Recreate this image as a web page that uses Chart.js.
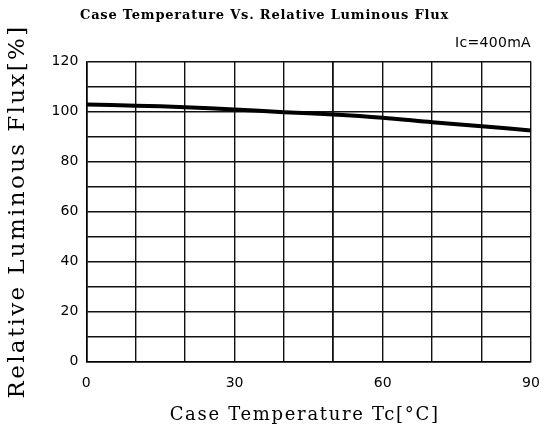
<!DOCTYPE html>
<html>
<head>
<meta charset="utf-8">
<script src="https://cdn.jsdelivr.net/npm/chart.js@4.4.1/dist/chart.umd.min.js"></script>
<style>
  html, body { margin: 0; padding: 0; background: #fff; }
  #wrap { width: 545px; height: 432px; }
</style>
</head>
<body>
<div id="wrap"><canvas id="grafica"></canvas></div>
<script>
// Temperatura de carcasa (°C) y flujo luminoso relativo (%)
const temperaturas = [0, 10, 20, 30, 40, 50, 60, 70, 80, 90];
const flujoRelativo = [102.8, 102.3, 101.7, 100.8, 99.7, 98.8, 97.5, 95.7, 94.1, 92.4];
const etiquetasX = [0, 30, 60, 90];
const etiquetasY = [0, 20, 40, 60, 80, 100, 120];

const serif = '"DejaVu Serif", serif';
const sans = '"DejaVu Sans", sans-serif';

// ancho deseado de los textos (imitan la letra espaciada del original) y corrimiento
const anchoTexto = {
    'Case Temperature Vs. Relative Luminous Flux': { w: 369, dx: -3 },
    'Ic=400mA': { w: 76, dx: 0 },
    'Case Temperature Tc[°C]': { w: 270, dx: -4 },
    'Relative Luminous Flux[%]': { w: 374, dx: 0 }
};

const espaciar = {
    id: 'espaciar',
    beforeDraw(chart) {
        const c = chart.ctx;
        if (c._espaciado) return;
        c._espaciado = true;
        const fill = c.fillText;
        c.fillText = function (t, x, y, mw) {
            const cfg = anchoTexto[t];
            if (cfg === undefined) {
                return mw === undefined ? fill.call(this, t, x, y) : fill.call(this, t, x, y, mw);
            }
            this.letterSpacing = '0px';
            const n = [...t].length;
            const ls = (cfg.w - this.measureText(t).width) / n;
            this.letterSpacing = ls + 'px';
            fill.call(this, t, x + cfg.dx, y);
            this.letterSpacing = '0px';
        };
    }
};

const ctx = document.getElementById('grafica').getContext('2d');
new Chart(ctx, {
    type: 'line',
    data: {
        datasets: [{
            label: 'Ic=400mA',
            data: temperaturas.map((t, i) => ({ x: t, y: flujoRelativo[i] })),
            borderColor: '#000',
            borderWidth: 4,
            pointRadius: 0,
            tension: 0.3,
            fill: false
        }]
    },
    plugins: [espaciar],
    options: {
        responsive: true,
        maintainAspectRatio: false,
        animation: false,
        layout: { padding: { top: 8, right: 14, left: 4, bottom: 6 } },
        plugins: {
            legend: { display: false },
            tooltip: { enabled: false },
            title: {
                display: true,
                text: 'Case Temperature Vs. Relative Luminous Flux',
                color: '#000',
                font: { family: serif, size: 13, weight: 'bold' },
                padding: { top: 0, bottom: 11 }
            },
            subtitle: {
                display: true,
                text: 'Ic=400mA',
                align: 'end',
                color: '#000',
                font: { family: sans, size: 14 },
                padding: { top: 0, bottom: 10 }
            }
        },
        scales: {
            x: {
                type: 'linear',
                min: 0,
                max: 90,
                ticks: {
                    stepSize: 10,
                    color: '#000',
                    font: { family: sans, size: 14 },
                    padding: 4,
                    maxRotation: 0,
                    autoSkip: false,
                    callback: v => etiquetasX.includes(v) ? v : ''
                },
                grid: {
                    drawTicks: true,
                    tickLength: 9,
                    tickColor: 'rgba(0,0,0,0)',
                    lineWidth: c => c.tick && c.tick.value === 50 ? 1.8 : 1.4,
                    color: '#111'
                },
                border: { color: '#000', width: 1.6 },
                title: {
                    display: true,
                    text: 'Case Temperature Tc[°C]',
                    color: '#000',
                    font: { family: serif, size: 18 },
                    padding: { top: 9, bottom: 0 }
                }
            },
            y: {
                min: 0,
                max: 120,
                ticks: {
                    stepSize: 10,
                    color: '#000',
                    font: { family: sans, size: 14 },
                    padding: 8,
                    autoSkip: false,
                    callback: v => etiquetasY.includes(v) ? v : ''
                },
                grid: {
                    drawTicks: false,
                    lineWidth: 1.4,
                    color: '#111'
                },
                border: { color: '#000', width: 1.6 },
                title: {
                    display: true,
                    text: 'Relative Luminous Flux[%]',
                    color: '#000',
                    font: { family: serif, size: 23 },
                    padding: { top: 0, bottom: 12 }
                }
            }
        }
    }
});
</script>
</body>
</html>
